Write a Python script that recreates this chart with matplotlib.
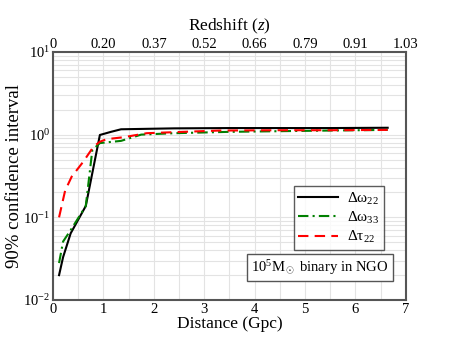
import matplotlib
matplotlib.use("Agg")
import matplotlib.pyplot as plt
from matplotlib.ticker import FixedLocator, LogLocator, NullFormatter

plt.rcParams['font.family'] = ['Liberation Serif', 'DejaVu Serif']
plt.rcParams['mathtext.fontset'] = 'custom'
plt.rcParams['mathtext.rm'] = 'Liberation Serif'
plt.rcParams['mathtext.it'] = 'Liberation Serif:italic'
plt.rcParams['mathtext.bf'] = 'Liberation Serif:bold'

# Data
dist_w22 = [0.12, 0.2, 0.35, 0.65, 0.93, 1.15, 1.35, 2.4, 3.5, 4.5, 5.5, 6.64]
err_w22 = [0.02, 0.033, 0.064, 0.137, 0.99, 1.08, 1.16, 1.19, 1.2, 1.2, 1.2, 1.21]
dist_w33 = [0.12, 0.2, 0.35, 0.65, 0.78, 0.93, 1.35, 1.75, 2.4, 3.5, 4.5, 5.5, 6.64]
err_w33 = [0.028, 0.051, 0.07, 0.137, 0.65, 0.79, 0.84, 1.0, 1.04, 1.08, 1.1, 1.12, 1.14]
dist_t22 = [0.12, 0.24, 0.37, 0.6, 0.8, 0.93, 1.06, 1.4, 1.86, 2.4, 3.3, 4.5, 5.5, 6.64]
err_t22 = [0.1, 0.21, 0.31, 0.47, 0.71, 0.82, 0.88, 0.93, 1.04, 1.07, 1.12, 1.13, 1.13, 1.14]

dist_ticks = [0, 1, 2, 3, 4, 5, 6, 7]
redshift_labels = ['0', '0.20', '0.37', '0.52', '0.66', '0.79', '0.91', '1.03']
labels = [r'Δω$_{22}$', r'Δω$_{33}$', r'Δτ$_{22}$']

fig = plt.figure(figsize=(4.57, 3.53), dpi=100)
ax = fig.add_axes([0.116, 0.150, 0.772, 0.703])

ax.plot(dist_w22, err_w22, color='black', lw=1.5, label=labels[0])
ax.plot(dist_w33, err_w33, color='#008000', lw=1.5, ls=(0, (5, 2, 1, 2)), label=labels[1])
ax.plot(dist_t22, err_t22, color='red', lw=1.5, ls=(0, (5, 3)), label=labels[2])

ax.set_yscale('log')
ax.set_xlim(0, 7)
ax.set_ylim(1e-2, 1e1)
ax.set_xticks(dist_ticks)
ax.xaxis.set_minor_locator(FixedLocator([0.5 + i for i in range(7)]))
ax.yaxis.set_minor_locator(LogLocator(base=10, subs=range(2, 10)))
ax.yaxis.set_minor_formatter(NullFormatter())
ax.grid(True, which='both', color='#e3e3e3', lw=0.8)
ax.set_axisbelow(True)

for s in ax.spines.values():
    s.set_color('#555555')
    s.set_linewidth(1.5)

ax.tick_params(which='both', length=0, labelsize=10.5, pad=2)
ax.set_xlabel('Distance (Gpc)', fontsize=12.5, labelpad=0)
ax.set_ylabel('90% confidence interval', fontsize=13.5, labelpad=0)

ax2 = ax.twiny()
ax2.set_xlim(ax.get_xlim())
ax2.set_xticks(dist_ticks)
ax2.set_xticklabels(redshift_labels)
ax2.tick_params(length=0, labelsize=10.5, pad=1)
ax2.set_xlabel('Redshift ($z$)', fontsize=12.5, labelpad=5)
for s in ax2.spines.values():
    s.set_visible(False)

leg = ax.legend(loc='upper left', bbox_to_anchor=(0.66, 0.49), fontsize=11,
                frameon=True, fancybox=False, edgecolor='#333333',
                handlelength=2.6, borderpad=0.3, labelspacing=0.2, handletextpad=0.6)
leg.get_frame().set_linewidth(1.0)

ax.text(0.952, 0.131, r'10$^5$M$_\odot$ binary in NGO', transform=ax.transAxes,
        ha='right', va='center', fontsize=10.5,
        bbox=dict(boxstyle='square,pad=0.28', fc='white', ec='#555555', lw=1.0))

fig.savefig('out.png', dpi=100)
